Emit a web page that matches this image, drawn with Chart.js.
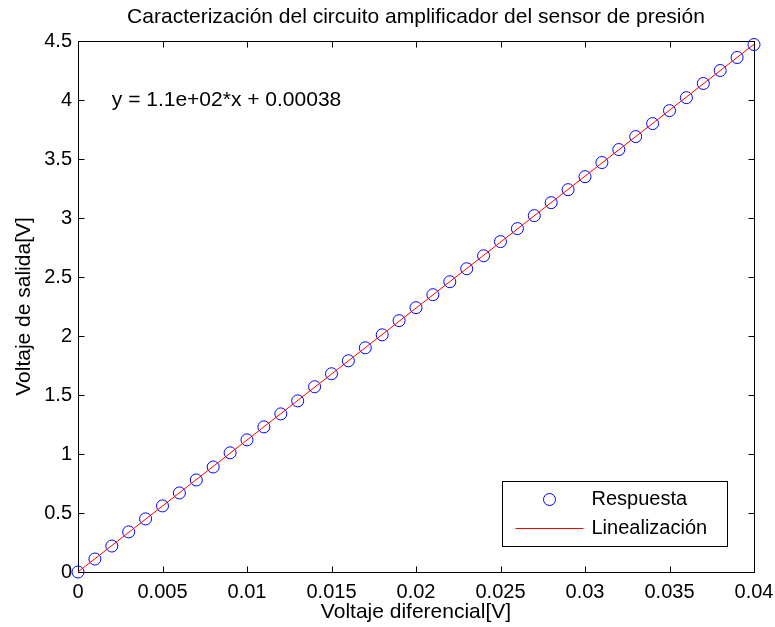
<!DOCTYPE html>
<html>
<head>
<meta charset="utf-8">
<title>Caracterización del circuito amplificador</title>
<script src="https://cdn.jsdelivr.net/npm/chart.js@4.4.1/dist/chart.umd.min.js"></script>
<style>
  html, body { margin: 0; padding: 0; background: #fff; }
  #wrap { width: 775px; height: 627px; }
</style>
</head>
<body>
<div id="wrap"><canvas id="chart"></canvas></div>
<script>
// Measured points: differential input [V] vs amplifier output [V]
const vDiff = [
  0, 0.001, 0.002, 0.003, 0.004, 0.005, 0.006, 0.007, 0.008, 0.009,
  0.010, 0.011, 0.012, 0.013, 0.014, 0.015, 0.016, 0.017, 0.018, 0.019,
  0.020, 0.021, 0.022, 0.023, 0.024, 0.025, 0.026, 0.027, 0.028, 0.029,
  0.030, 0.031, 0.032, 0.033, 0.034, 0.035, 0.036, 0.037, 0.038, 0.039,
  0.040
];
const vOut = [
  0.00, 0.11, 0.22, 0.34, 0.45, 0.56, 0.67, 0.78, 0.89, 1.01,
  1.12, 1.23, 1.34, 1.45, 1.57, 1.68, 1.79, 1.90, 2.01, 2.13,
  2.24, 2.35, 2.46, 2.57, 2.68, 2.80, 2.91, 3.02, 3.13, 3.24,
  3.35, 3.47, 3.58, 3.69, 3.80, 3.91, 4.02, 4.14, 4.25, 4.36,
  4.47
];

// Linear fit endpoints
const fitX = [0, 0.04];
const fitY = [0.00038, 4.4724];
const fitText = 'y = 1.1e+02*x + 0.00038';
const fitTextPos = [0.002, 4.0];

const chartTitle = 'Caracterización del circuito amplificador del sensor de presión';

// Axis ticks
const xTickValues = [0, 0.005, 0.01, 0.015, 0.02, 0.025, 0.03, 0.035, 0.04];
const xTickLabels = ['0', '0.005', '0.01', '0.015', '0.02', '0.025', '0.03', '0.035', '0.04'];
const yTickValues = [0, 0.5, 1, 1.5, 2, 2.5, 3, 3.5, 4, 4.5];
const yTickLabels = ['0', '0.5', '1', '1.5', '2', '2.5', '3', '3.5', '4', '4.5'];

const FONT = '"Liberation Sans", Arial, Helvetica, sans-serif';
const TICK = 6;

Chart.defaults.font.family = FONT;
Chart.defaults.color = '#000';

// MATLAB style box: axes on all four sides, ticks pointing inwards,
// title over the plot area, fit equation and legend inside it
const axesBox = {
  id: 'axesBox',
  beforeDatasetsDraw(chart) {
    const { ctx, chartArea: a, scales: { x, y } } = chart;
    const l = Math.round(a.left) + 0.5, r = Math.round(a.right) + 0.5;
    const t = Math.round(a.top) + 0.5, b = Math.round(a.bottom) + 0.5;
    ctx.save();
    ctx.strokeStyle = '#000';
    ctx.lineWidth = 1;
    ctx.beginPath();
    x.ticks.forEach(tk => {
      const px = Math.round(x.getPixelForValue(tk.value)) + 0.5;
      ctx.moveTo(px, b); ctx.lineTo(px, b - TICK);
      ctx.moveTo(px, t); ctx.lineTo(px, t + TICK);
    });
    y.ticks.forEach(tk => {
      const py = Math.round(y.getPixelForValue(tk.value)) + 0.5;
      ctx.moveTo(l, py); ctx.lineTo(l + TICK, py);
      ctx.moveTo(r, py); ctx.lineTo(r - TICK, py);
    });
    ctx.stroke();
    ctx.strokeRect(l, t, r - l, b - t);

    // title centred on the plot area
    ctx.font = '21px ' + FONT;
    ctx.fillStyle = '#000';
    ctx.textAlign = 'center';
    ctx.textBaseline = 'alphabetic';
    ctx.fillText(chartTitle, (a.left + a.right) / 2, 23);
    ctx.restore();
  },
  afterDatasetsDraw(chart) {
    const { ctx, chartArea: a, scales: { x, y } } = chart;
    const fitSet = chart.data.datasets[0];
    const ptSet = chart.data.datasets[1];
    ctx.save();

    // fit equation
    ctx.font = '21px ' + FONT;
    ctx.fillStyle = '#000';
    ctx.textAlign = 'left';
    ctx.textBaseline = 'middle';
    ctx.fillText(fitText, x.getPixelForValue(fitTextPos[0]), y.getPixelForValue(fitTextPos[1]));

    // legend box
    const w = 225, h = 65;
    const bx = Math.round(a.right - 27 - w) + 0.5;
    const by = Math.round(a.bottom - 26 - h) + 0.5;
    ctx.fillStyle = '#fff';
    ctx.fillRect(bx, by, w, h);
    ctx.strokeStyle = '#000';
    ctx.lineWidth = 1;
    ctx.strokeRect(bx, by, w, h);

    const row1 = by + 18, row2 = by + 47;
    ctx.strokeStyle = ptSet.borderColor;
    ctx.lineWidth = ptSet.pointBorderWidth;
    ctx.beginPath();
    ctx.arc(bx + 47, row1, ptSet.pointRadius, 0, Math.PI * 2);
    ctx.stroke();

    ctx.strokeStyle = fitSet.borderColor;
    ctx.lineWidth = fitSet.borderWidth;
    ctx.beginPath();
    ctx.moveTo(bx + 13, row2);
    ctx.lineTo(bx + 81, row2);
    ctx.stroke();

    ctx.font = '20px ' + FONT;
    ctx.fillStyle = '#000';
    ctx.fillText(ptSet.label, bx + 89, row1);
    ctx.fillText(fitSet.label, bx + 89, row2);
    ctx.restore();
  }
};

const ctx = document.getElementById('chart').getContext('2d');

new Chart(ctx, {
  type: 'scatter',
  data: {
    datasets: [{
      label: 'Linealización',
      type: 'line',
      data: fitX.map((v, i) => ({ x: v, y: fitY[i] })),
      borderColor: '#ff0000',
      borderWidth: 1,
      pointRadius: 0,
      fill: false,
      clip: false,
      order: 0
    }, {
      label: 'Respuesta',
      data: vDiff.map((v, i) => ({ x: v, y: vOut[i] })),
      borderColor: '#0000ff',
      backgroundColor: 'rgba(0,0,0,0)',
      pointBorderColor: '#0000ff',
      pointBackgroundColor: 'rgba(0,0,0,0)',
      pointBorderWidth: 1,
      pointRadius: 6,
      showLine: false,
      clip: false,
      order: 1
    }]
  },
  options: {
    responsive: true,
    maintainAspectRatio: false,
    animation: false,
    devicePixelRatio: 1,
    layout: { padding: { left: 0, right: 21, top: 41, bottom: 0 } },
    plugins: {
      legend: { display: false },
      tooltip: { enabled: false },
      title: { display: false }
    },
    scales: {
      x: {
        type: 'linear',
        min: 0,
        max: 0.04,
        grid: { display: false, drawTicks: false },
        border: { display: false },
        afterBuildTicks: s => { s.ticks = xTickValues.map(v => ({ value: v })); },
        afterFit: s => { s.height = 55; s.paddingLeft = 0; s.paddingRight = 0; },
        ticks: {
          padding: 8,
          maxRotation: 0,
          autoSkip: false,
          font: { size: 20 },
          color: '#000',
          callback: (v, i) => xTickLabels[i]
        },
        title: {
          display: true,
          text: 'Voltaje diferencial[V]',
          font: { size: 21 },
          color: '#000',
          padding: { top: 0, bottom: 2 }
        }
      },
      y: {
        type: 'linear',
        min: 0,
        max: 4.5,
        grid: { display: false, drawTicks: false },
        border: { display: false },
        afterBuildTicks: s => { s.ticks = yTickValues.map(v => ({ value: v })); },
        afterFit: s => { s.width = 78; s.paddingTop = 0; s.paddingBottom = 0; },
        ticks: {
          padding: 6,
          autoSkip: false,
          font: { size: 20 },
          color: '#000',
          callback: (v, i) => yTickLabels[i]
        },
        title: {
          display: true,
          text: 'Voltaje de salida[V]',
          font: { size: 21 },
          color: '#000',
          padding: { top: 12, bottom: 0 }
        }
      }
    }
  },
  plugins: [axesBox]
});
</script>
</body>
</html>
